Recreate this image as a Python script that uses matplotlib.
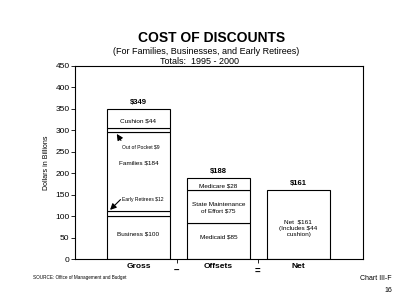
import matplotlib.pyplot as plt

plt.rcParams['font.family'] = ['Liberation Sans', 'DejaVu Sans']

# data (billions of dollars, 1995-2000)
columns = ['Gross', 'Offsets', 'Net']
gross_parts = ['Business $100', 'Early Retirees $12', 'Families $184', 'Out of Pocket $9', 'Cushion $44']
gross_values = [100, 12, 184, 9, 44]
offset_parts = ['Medicaid $85', 'State Maintenance\nof Effort $75', 'Medicare $28']
offset_values = [85, 75, 28]
net_values = [161]
totals = ['$349', '$188', '$161']
y_ticks = [0, 50, 100, 150, 200, 250, 300, 350, 400, 450]

fig = plt.figure(figsize=(4, 3.05), dpi=100)
ax = fig.add_axes([75 / 400, 46 / 305, 288 / 400, 193 / 305])

w = 0.79
lw = 0.8


def stack(ax, x, values):
    bottom = 0
    for v in values:
        ax.bar(x, v, width=w, bottom=bottom, color='white', edgecolor='black', linewidth=lw)
        bottom += v
    return bottom


top_g = stack(ax, 1, gross_values)
top_o = stack(ax, 2, offset_values)
top_n = stack(ax, 3, net_values)

fs = 4.6
# gross labels
ax.text(1, 322, 'Cushion $44', ha='center', va='center', fontsize=fs)
ax.text(1.03, 261, 'Out of Pocket $9', ha='center', va='center', fontsize=3.6)
ax.text(1, 224, 'Families $184', ha='center', va='center', fontsize=fs)
ax.text(1.06, 139, 'Early Retirees $12', ha='center', va='center', fontsize=3.6)
ax.text(1, 58, 'Business $100', ha='center', va='center', fontsize=fs)
ax.annotate('', xy=(0.71, 297), xytext=(0.8, 271),
            arrowprops=dict(arrowstyle='-|>', color='black', lw=0.8, mutation_scale=9))
ax.annotate('', xy=(0.62, 110), xytext=(0.8, 143),
            arrowprops=dict(arrowstyle='-|>', color='black', lw=0.8, mutation_scale=9))

# offsets labels
ax.text(2, 170, 'Medicare $28', ha='center', va='center', fontsize=fs)
ax.text(2, 120, offset_parts[1], ha='center', va='center', fontsize=fs, linespacing=1.4)
ax.text(2, 51, 'Medicaid $85', ha='center', va='center', fontsize=fs)

# net label
ax.text(3, 72, 'Net  $161\n(Includes $44\n cushion)', ha='center', va='center', fontsize=fs, linespacing=1.4)

for x, top, lab in zip([1, 2, 3], [top_g, top_o, top_n], totals):
    ax.text(x, top + 8, lab, ha='center', va='bottom', fontsize=5.5, fontweight='bold')

ax.set_xlim(0.206, 3.81)
ax.set_ylim(0, 450)
ax.set_yticks(y_ticks)
ax.tick_params(axis='y', labelsize=6, length=3, width=0.6, pad=1)
ax.set_xticks([1, 2, 3])
ax.set_xticklabels(columns, fontsize=6, fontweight='bold')
ax.set_xticks([1.48, 2.49], minor=True)
ax.set_xticklabels(['–', '='], minor=True, fontsize=7, fontweight='bold')
ax.tick_params(axis='x', which='major', length=0, pad=3)
ax.tick_params(axis='x', which='minor', length=3, width=0.6, pad=2)
for s in ax.spines.values():
    s.set_linewidth(0.8)
ax.set_ylabel('Dollars in Billions', fontsize=5, labelpad=4)

fig.text(212 / 400, 1 - 38 / 305, 'COST OF DISCOUNTS', ha='center', va='center', fontsize=10, fontweight='bold')
fig.text(206 / 400, 1 - 51 / 305, '(For Families, Businesses, and Early Retirees)', ha='center', va='center', fontsize=6.5)
fig.text(200 / 400, 1 - 61 / 305, 'Totals:  1995 - 2000', ha='center', va='center', fontsize=6.5)
fig.text(33 / 400, 1 - 278 / 305, 'SOURCE: Office of Management and Budget', ha='left', va='center', fontsize=3.3)
fig.text(392 / 400, 1 - 278 / 305, 'Chart III-F', ha='right', va='center', fontsize=5)
fig.text(392 / 400, 1 - 291 / 305, '16', ha='right', va='center', fontsize=5)

fig.savefig('out.png', dpi=100)
